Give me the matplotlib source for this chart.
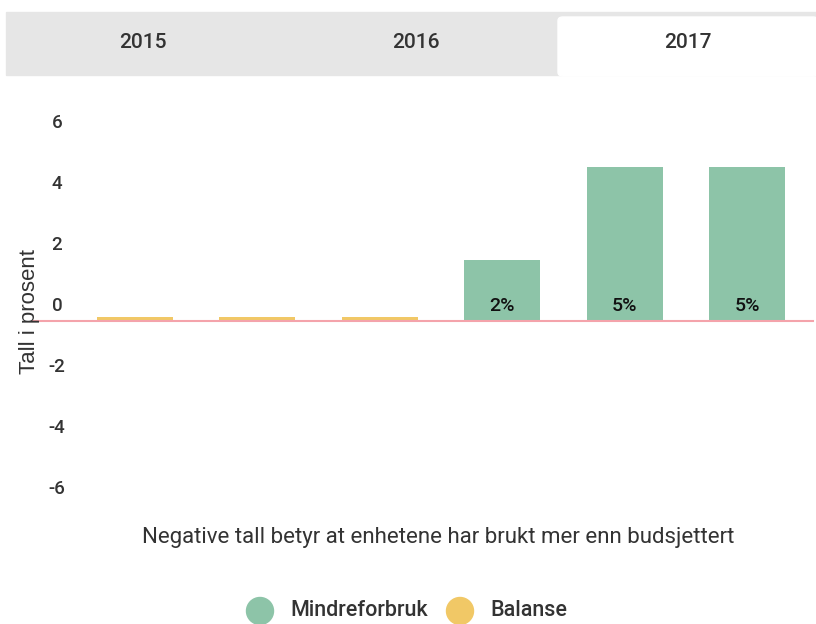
import matplotlib.pyplot as plt
from matplotlib.patches import Rectangle, FancyBboxPatch, Ellipse
from matplotlib.transforms import offset_copy, blended_transform_factory

plt.rcParams['font.family'] = ['Roboto', 'DejaVu Sans']

# data
tabs = ['2015', '2016', '2017']
mindre_pos = [3, 4, 5]
mindre_val = [2.0, 5.05, 5.05]
mindre_lab = ['2%', '5%', '5%']
balanse_pos = [0, 1, 2]
balanse_val = [0.13, 0.13, 0.13]
yticks = [6, 4, 2, 0, -2, -4, -6]

green = '#8dc4a8'
yellow = '#f1c866'
text_col = '#333333'

W, H = 816, 624
fig = plt.figure(figsize=(W / 100, H / 100), dpi=100)


def fx(px):
    return px / W


def fy(py):
    return 1 - py / H


# tab bar
fig.patches.append(Rectangle((fx(6), fy(75)), fx(810), (75 - 12) / H,
                             transform=fig.transFigure, color='#e6e6e6', zorder=0))
fig.patches.append(FancyBboxPatch((fx(558), fy(76)), fx(260), (76 - 17) / H,
                                  boxstyle='round,pad=0,rounding_size=0.006',
                                  transform=fig.transFigure, color='white', zorder=1))
for t, cx in zip(tabs, [143, 416, 688]):
    fig.text(fx(cx), fy(43), t, ha='center', va='center', fontsize=15,
             color=text_col, fontweight='medium')

# plot area: y=6 at 138px, y=-6 at 504px; x centres from 135 by 122.4
ax = fig.add_axes([fx(73.8), fy(504), fx(734.4), (504 - 138) / H])
ax.set_xlim(-0.5, 5.5)
ax.set_ylim(-6, 6)
ax.axis('off')

ax.bar(mindre_pos, mindre_val, width=0.62, color=green, zorder=2)
ax.bar(balanse_pos, balanse_val, width=0.62, color=yellow, zorder=2)
ax.axhline(0, xmin=-0.056, xmax=1.006, color='#f4a3ab', lw=1.5, clip_on=False, zorder=3)

lab_tr = offset_copy(ax.transData, fig=fig, x=0, y=15, units='dots')
for p, lab in zip(mindre_pos, mindre_lab):
    ax.text(p, 0, lab, transform=lab_tr, ha='center', va='center',
            fontsize=14, color='#111111', fontweight='medium')

tick_tr = offset_copy(blended_transform_factory(fig.transFigure, ax.transData),
                      fig=fig, x=0, y=15, units='dots')
for v in yticks:
    ax.text(fx(57), v, str(v), transform=tick_tr, ha='center', va='center',
            fontsize=13.5, color=text_col, fontweight='medium')

fig.text(fx(30), fy(311), 'Tall i prosent', rotation=90, ha='center', va='center',
         fontsize=16, color=text_col, family=['Liberation Sans', 'DejaVu Sans'])

fig.text(fx(438), fy(537), 'Negative tall betyr at enhetene har brukt mer enn budsjettert',
         ha='center', va='center', fontsize=16, color=text_col)

# legend
for cx, col, lab in [(260, green, 'Mindreforbruk'), (460, yellow, 'Balanse')]:
    fig.patches.append(Ellipse((fx(cx), fy(611)), 27 / W, 27 / H,
                               transform=fig.transFigure, color=col))
    fig.text(fx(cx + 30), fy(611), lab, ha='left', va='center', fontsize=15.5,
             color=text_col, fontweight='medium')

fig.savefig('out.png', dpi=100)
